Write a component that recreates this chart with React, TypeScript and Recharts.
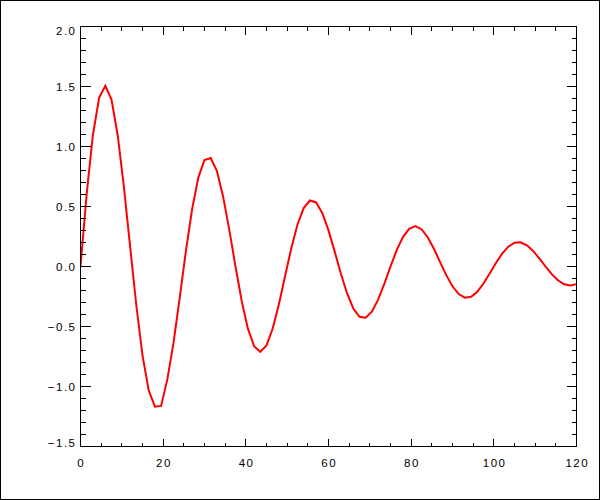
import React from 'react';
import { LineChart, Line, XAxis, YAxis } from 'recharts';

const xValues = [
  0, 1.5, 3, 4.5, 6, 7.5, 9, 10.5, 12, 13.5, 15, 16.5, 18, 19.5, 21, 22.5, 24, 25.5, 27, 28.5,
  30, 31.5, 33, 34.5, 36, 37.5, 39, 40.5, 42, 43.5, 45, 46.5, 48, 49.5, 51, 52.5, 54, 55.5, 57, 58.5,
  60, 61.5, 63, 64.5, 66, 67.5, 69, 70.5, 72, 73.5, 75, 76.5, 78, 79.5, 81, 82.5, 84, 85.5, 87, 88.5,
  90, 91.5, 93, 94.5, 96, 97.5, 99, 100.5, 102, 103.5, 105, 106.5, 108, 109.5, 111, 112.5, 114, 115.5, 117, 118.5,
  120,
];

const yValues = [
  0, 0.607, 1.096, 1.406, 1.505, 1.392, 1.094, 0.664, 0.168, -0.323,
  -0.74, -1.032, -1.168, -1.162, -0.943, -0.637, -0.262, 0.128, 0.477, 0.741,
  0.887, 0.904, 0.795, 0.584, 0.305, 0, -0.287, -0.518, -0.664, -0.711,
  -0.657, -0.517, -0.314, -0.079, 0.152, 0.35, 0.487, 0.55, 0.534, 0.445,
  0.301, 0.124, -0.06, -0.225, -0.35, -0.419, -0.427, -0.376, -0.276, -0.144,
  0, 0.136, 0.245, 0.314, 0.336, 0.311, 0.244, 0.148, 0.037, -0.072,
  -0.165, -0.23, -0.26, -0.252, -0.21, -0.142, -0.058, 0.029, 0.107, 0.165,
  0.198, 0.202, 0.177, 0.13, 0.068, 0, -0.064, -0.115, -0.148, -0.159,
  -0.147,
];

const xMajorTicks = [0, 20, 40, 60, 80, 100, 120];
const xTickLabels = ['0', '20', '40', '60', '80', '100', '120'];
const xMinorTicks = [5, 10, 15, 25, 30, 35, 45, 50, 55, 65, 70, 75, 85, 90, 95, 105, 110, 115];

const yMajorTicks = [-1.5, -1.0, -0.5, 0, 0.5, 1.0, 1.5, 2.0];
const yTickLabels = ['\u22121.5', '\u22121.0', '\u22120.5', '0.0', '0.5', '1.0', '1.5', '2.0'];
const yMinorTicks = [
  -1.4, -1.3, -1.2, -1.1, -0.9, -0.8, -0.7, -0.6, -0.4, -0.3, -0.2, -0.1,
  0.1, 0.2, 0.3, 0.4, 0.6, 0.7, 0.8, 0.9, 1.1, 1.2, 1.3, 1.4, 1.6, 1.7, 1.8, 1.9,
];

const data = xValues.map((x, i) => ({ x, y: yValues[i] }));
const xAllTicks = [...xMajorTicks, ...xMinorTicks].sort((a, b) => a - b);
const yAllTicks = [...yMajorTicks, ...yMinorTicks].sort((a, b) => a - b);

const FONT = '"Liberation Sans", Arial, sans-serif';
const LABEL_STYLE: React.CSSProperties = { fontFamily: FONT, fontSize: 11.5, letterSpacing: 1.5 };

const LeftTick = (props: any) => {
  const { x, y, payload } = props;
  const idx = yMajorTicks.indexOf(payload.value);
  const major = idx >= 0;
  const len = major ? 10 : 5;
  let dy = 4;
  if (idx === yMajorTicks.length - 1) dy = 8.5;
  if (idx === 0) dy = 0;
  return (
    <g>
      <line x1={x} y1={y} x2={x + len} y2={y} stroke="#000" strokeWidth={1} shapeRendering="crispEdges" />
      {major && (
        <text x={x - 4} y={y + dy} textAnchor="end" fill="#000" style={LABEL_STYLE}>
          {yTickLabels[idx]}
        </text>
      )}
    </g>
  );
};

const RightTick = (props: any) => {
  const { x, y, payload } = props;
  const major = yMajorTicks.indexOf(payload.value) >= 0;
  const len = major ? 10 : 5;
  return <line x1={x} y1={y} x2={x - len} y2={y} stroke="#000" strokeWidth={1} shapeRendering="crispEdges" />;
};

const BottomTick = (props: any) => {
  const { x, y, payload } = props;
  const idx = xMajorTicks.indexOf(payload.value);
  const major = idx >= 0;
  const len = major ? 8 : 4;
  return (
    <g>
      <line x1={x} y1={y} x2={x} y2={y - len} stroke="#000" strokeWidth={1} shapeRendering="crispEdges" />
      {major && (
        <text x={x + 0.75} y={y + 20} textAnchor="middle" fill="#000" style={LABEL_STYLE}>
          {xTickLabels[idx]}
        </text>
      )}
    </g>
  );
};

const TopTick = (props: any) => {
  const { x, y, payload } = props;
  const major = xMajorTicks.indexOf(payload.value) >= 0;
  const len = major ? 8 : 4;
  return <line x1={x} y1={y} x2={x} y2={y + len} stroke="#000" strokeWidth={1} shapeRendering="crispEdges" />;
};

export default function App() {
  return (
    <div style={{ position: 'absolute', left: 0, top: 0, width: 600, height: 500, background: '#fff' }}>
      <LineChart
        width={600}
        height={500}
        data={data}
        margin={{ top: 25.5, right: 22.5, bottom: 23.5, left: 20.5 }}
      >
        <XAxis
          xAxisId="bottom"
          dataKey="x"
          type="number"
          orientation="bottom"
          domain={[0, 120]}
          ticks={xAllTicks}
          interval={0}
          height={30}
          tickSize={0}
          tickMargin={0}
          tickLine={false}
          axisLine={{ stroke: '#000', strokeWidth: 1 }}
          tick={<BottomTick />}
          allowDataOverflow
        />
        <XAxis
          xAxisId="top"
          dataKey="x"
          type="number"
          orientation="top"
          domain={[0, 120]}
          ticks={xAllTicks}
          interval={0}
          height={1}
          tickSize={0}
          tickMargin={0}
          tickLine={false}
          axisLine={{ stroke: '#000', strokeWidth: 1 }}
          tick={<TopTick />}
          allowDataOverflow
        />
        <YAxis
          yAxisId="left"
          type="number"
          orientation="left"
          domain={[-1.5, 2]}
          ticks={yAllTicks}
          interval={0}
          width={60}
          tickSize={0}
          tickMargin={0}
          tickLine={false}
          axisLine={{ stroke: '#000', strokeWidth: 1 }}
          tick={<LeftTick />}
          allowDataOverflow
        />
        <YAxis
          yAxisId="right"
          type="number"
          orientation="right"
          domain={[-1.5, 2]}
          ticks={yAllTicks}
          interval={0}
          width={1}
          tickSize={0}
          tickMargin={0}
          tickLine={false}
          axisLine={{ stroke: '#000', strokeWidth: 1 }}
          tick={<RightTick />}
          allowDataOverflow
        />
        <Line
          xAxisId="top"
          yAxisId="right"
          dataKey="y"
          type="linear"
          stroke="none"
          dot={false}
          activeDot={false}
          isAnimationActive={false}
        />
        <Line
          xAxisId="bottom"
          yAxisId="left"
          dataKey="y"
          type="linear"
          stroke="#ff0000"
          strokeWidth={2}
          dot={false}
          activeDot={false}
          isAnimationActive={false}
        />
      </LineChart>
      <div
        style={{
          position: 'absolute',
          left: 0,
          top: 0,
          width: 600,
          height: 500,
          border: '1px solid #000',
          boxSizing: 'border-box',
          pointerEvents: 'none',
        }}
      />
    </div>
  );
}
